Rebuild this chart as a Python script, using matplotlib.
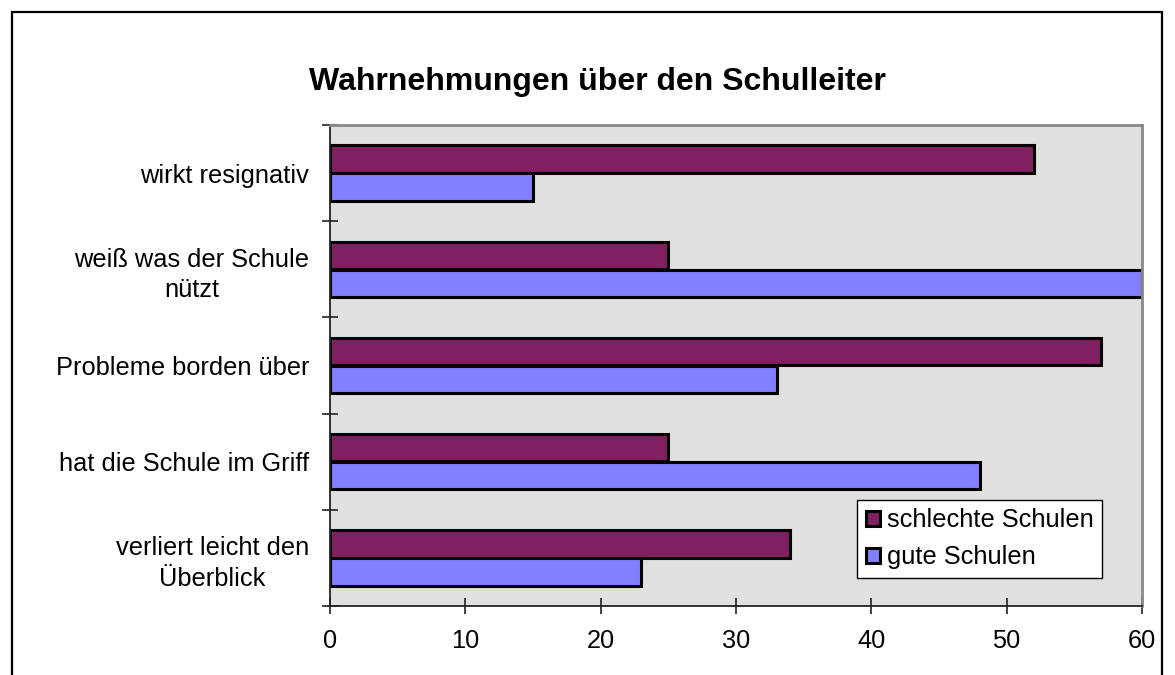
import numpy as np
import matplotlib
matplotlib.use("Agg")
import matplotlib.pyplot as plt
from matplotlib.patches import Rectangle
from matplotlib.ticker import FixedLocator

plt.rcParams['font.family'] = ['Liberation Sans', 'DejaVu Sans']

# data
categories = ["wirkt resignativ", "weiß was der Schule\nnützt", "Probleme borden über",
              "hat die Schule im Griff", "verliert leicht den\nÜberblick"]
schlechte = [52, 25, 57, 25, 34]
gute = [15, 60, 33, 48, 23]
series_names = ["schlechte Schulen", "gute Schulen"]
xticks = [0, 10, 20, 30, 40, 50, 60]

fig = plt.figure(figsize=(11.75, 6.75), dpi=100)
ax = fig.add_axes([330/1175, 1-606/675, 812/1175, 481/675])
ax.set_facecolor("#E0E0E0")

y = np.arange(len(categories))
h = 0.285
off = 0.145
ax.barh(y - off, schlechte, height=h, color="#802060", edgecolor="black", linewidth=2.2,
        label=series_names[0])
ax.barh(y + off, gute, height=h, color="#8080FF", edgecolor="black", linewidth=2.2,
        label=series_names[1])

ax.set_xlim(0, 60)
ax.set_ylim(len(categories) - 0.5, -0.5)

# category labels at centres, tick marks at boundaries
ax.set_yticks(y)
ax.set_yticklabels(categories, fontsize=18.3)
ax.tick_params(axis="y", which="major", length=0, pad=15)
for lbl in ax.get_yticklabels():
    lbl.set_multialignment("center")
    lbl.set_linespacing(1.35)
ax.yaxis.set_minor_locator(FixedLocator(np.arange(len(categories) + 1) - 0.5))
ax.tick_params(axis="y", which="minor", direction="inout", length=11.5, width=1.2, color="#222222")

ax.set_xticks(xticks)
ax.tick_params(axis="x", direction="inout", length=11.5, width=1.2, color="#222222",
               labelsize=18.3, pad=11)

for s in ["left", "bottom"]:
    ax.spines[s].set_color("#222222")
    ax.spines[s].set_linewidth(1.3)
for s in ["top", "right"]:
    ax.spines[s].set_color("#888888")
    ax.spines[s].set_linewidth(2)

leg = ax.legend(loc="lower right", bbox_to_anchor=(0.951, 0.058), borderaxespad=0,
                fontsize=18.3, fancybox=False, framealpha=1, edgecolor="black",
                handlelength=0.55, handleheight=0.55, handletextpad=0.25,
                labelspacing=0.5, borderpad=0.35)
leg.get_frame().set_linewidth(1)

fig.text(597/1175, 1-82/675, "Wahrnehmungen über den Schulleiter", fontsize=23,
         fontweight="bold", ha="center", va="center")

# outer chart border (bottom edge is cut off)
fig.patches.append(Rectangle((12/1175, -0.05), 1150/1175, 1.05 - 12/675,
                             transform=fig.transFigure, fill=False,
                             edgecolor="black", linewidth=1.6))

fig.savefig("out.png", dpi=100)
